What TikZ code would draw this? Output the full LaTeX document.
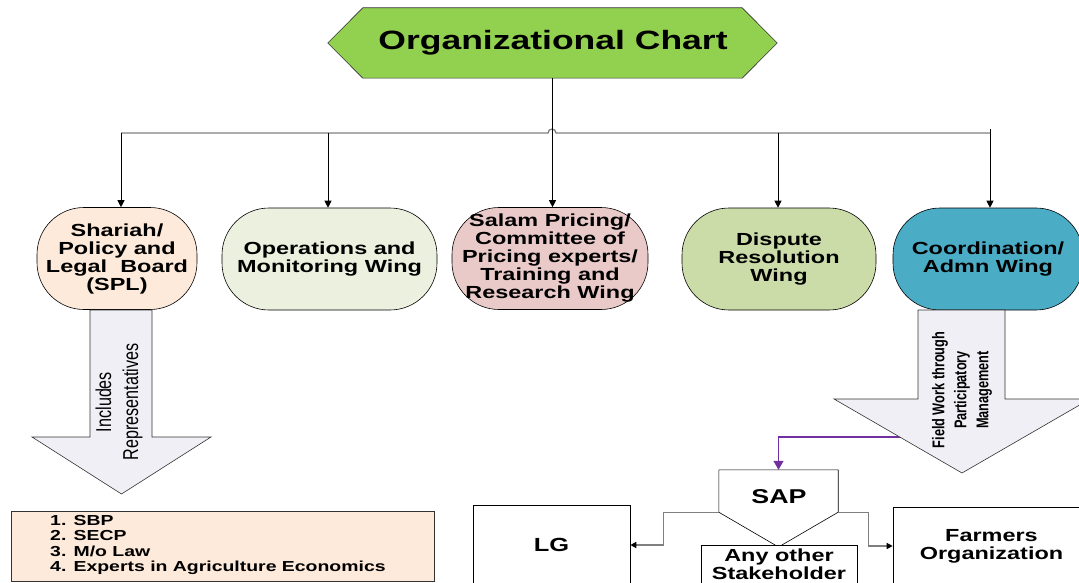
\documentclass[tikz,border=0pt]{standalone}
\usepackage{fontspec}
\setmainfont{Liberation Sans}
\newfontfamily\wideb[FakeStretch=1.34]{Liberation Sans}
\newfontfamily\narrowf[FakeStretch=0.75]{Liberation Sans}
\usetikzlibrary{arrows.meta}
\definecolor{titlegreen}{HTML}{92D050}
\definecolor{cpeach}{HTML}{FDEADA}
\definecolor{clgreen}{HTML}{EBF1DE}
\definecolor{cpink}{HTML}{EACAC9}
\definecolor{colive}{HTML}{CBDCA8}
\definecolor{cteal}{HTML}{4BACC6}
\definecolor{carrow}{HTML}{F0EFF5}
\definecolor{cbus}{HTML}{7F7F7F}
\definecolor{cpurple}{HTML}{7030A0}
\begin{document}
\begin{tikzpicture}[x=1pt,y=-1pt,
  wing/.style={draw=black, line width=0.6pt, rounded corners=47pt, minimum width=#1,
    minimum height=102pt, inner sep=0pt, align=center,
    font=\wideb\bfseries\fontsize{17.5}{18}\selectfont},
  drop/.style={draw=black, line width=0.8pt, -{Triangle[length=7pt,width=7pt]}},
  bus/.style={draw=cbus, line width=1.3pt},
  conn/.style={draw=cbus, line width=1.3pt, -{Triangle[length=6pt,width=6pt,fill=black,color=black]}},
  blockarrow/.style={draw=black!80, line width=0.6pt, fill=carrow},
  plainbox/.style={draw=black, line width=0.6pt, fill=white, inner sep=0pt, align=center,
    font=\wideb\bfseries\fontsize{17.5}{18}\selectfont}
]
\useasboundingbox (0,0) rectangle (1079,583);
\clip (0,0) rectangle (1079,583);

% title hexagon
\node[minimum width=449pt, minimum height=70pt, inner sep=0pt] (title) at (552.5,43) {};
\filldraw[fill=titlegreen, draw=black!80, line width=0.6pt]
  (title.west) -- ([xshift=35pt]title.north west) -- ([xshift=-35pt]title.north east)
  -- (title.east) -- ([xshift=-35pt]title.south east) -- ([xshift=35pt]title.south west) -- cycle;
\node[font=\wideb\bfseries\fontsize{26.5}{30}\selectfont, inner sep=0pt] (titletxt) at (553,43) {Organizational Chart};

% wings
\node[wing=160pt, fill=cpeach] (n1) at (117,258.5) {Shariah/\\Policy and\\Legal\ \ Board\\(SPL)};
\node[wing=215pt, fill=clgreen] (n2) at (329.5,259) {Operations and\\Monitoring Wing};
\node[wing=196pt, fill=cpink] (n3) at (550,258.5) {Salam Pricing/\\Committee of\\Pricing experts/\\Training and\\Research Wing};
\node[wing=194pt, fill=colive] (n4) at (779,259) {Dispute\\Resolution\\Wing};
\node[wing=190pt, fill=cteal] (n5) at (988,259) {Coordination/\\Admn Wing};

% bus
\coordinate (b1) at (121,133);
\coordinate (b2) at (328,133);
\coordinate (b4) at (778,133);
\coordinate (b5) at (990,133);
\draw[bus] (b1) -- (548,133) arc[start angle=180, end angle=360, radius=4] -- (b5);
\draw[drop] (title.south) -- (title.south |- n3.north);
\draw[drop] (b1) -- (b1 |- n1.north);
\draw[drop] (b2) -- (b2 |- n2.north);
\draw[drop] (b4) -- (b4 |- n4.north);
\draw[drop] ([yshift=4pt]b5) -- (b5 |- n5.north);

% left block arrow
\filldraw[blockarrow] (90,310) -- (152,310) -- (152,437) -- (211,437) -- (121.5,494)
  -- (32,437) -- (90,437) -- cycle;
\node[rotate=90, inner sep=0pt, align=center, font=\narrowf\fontsize{21.5}{27}\selectfont]
  (inclt) at (119,402) {Includes\\Representatives};

% list box
\node[draw=black!80, line width=0.8pt, fill=cpeach, minimum width=423pt, minimum height=70pt, inner sep=0pt] (list) at (222.5,546) {};
\node[anchor=west, inner sep=0pt, align=left, font=\wideb\bfseries\fontsize{14.5}{15.3}\selectfont]
  (listtxt) at (50,545) {1. SBP\\2. SECP\\3. M/o Law\\4. Experts in Agriculture Economics};

% purple connector (under right arrow)
\node[minimum width=119pt, minimum height=42pt, inner sep=0pt] (sap) at (778.5,491) {};
\coordinate (fw) at (915,437);
\draw[draw=cpurple, line width=1.3pt, -{Triangle[length=9pt,width=10pt]}] (fw) -| (sap.north);

% right block arrow
\filldraw[blockarrow] (918,310) -- (1005,310) -- (1005,399) -- (1090,399) -- (962,473)
  -- (834,399) -- (918,399) -- cycle;
\node[rotate=90, inner sep=0pt, align=center, font=\narrowf\bfseries\fontsize{17}{22}\selectfont]
  (fwt) at (962,390) {Field Work through\\Participatory\\Management};

% SAP pentagon
\coordinate (saptip) at (778.5,547);
\filldraw[draw=black, line width=0.6pt, fill=white]
  (sap.north west) -- (sap.north east) -- (sap.south east) -- (saptip) -- (sap.south west) -- cycle;
\node[inner sep=0pt, font=\wideb\bfseries\fontsize{20}{22}\selectfont] (saptxt) at (779,497) {SAP};

% lower boxes
\node[plainbox, minimum width=157pt, minimum height=80pt, font=\wideb\bfseries\fontsize{19}{21}\selectfont] (lg) at (551.5,545) {LG};
\node[plainbox, minimum width=156pt, minimum height=45pt] (other) at (779,567.5) {};
\node[inner sep=0pt, align=center, font=\wideb\bfseries\fontsize{17.5}{18}\selectfont] (othertxt) at (779,564) {Any other\\Stakeholder};
\node[plainbox, minimum width=197pt, minimum height=78pt] (farm) at (991.5,546) {Farmers\\Organization};

\draw[conn] (sap.south west) -- ++(-55,0) |- (lg.east);
\draw[conn] (sap.south east) -- ++(30,0) |- (farm.west);
\end{tikzpicture}
\end{document}
